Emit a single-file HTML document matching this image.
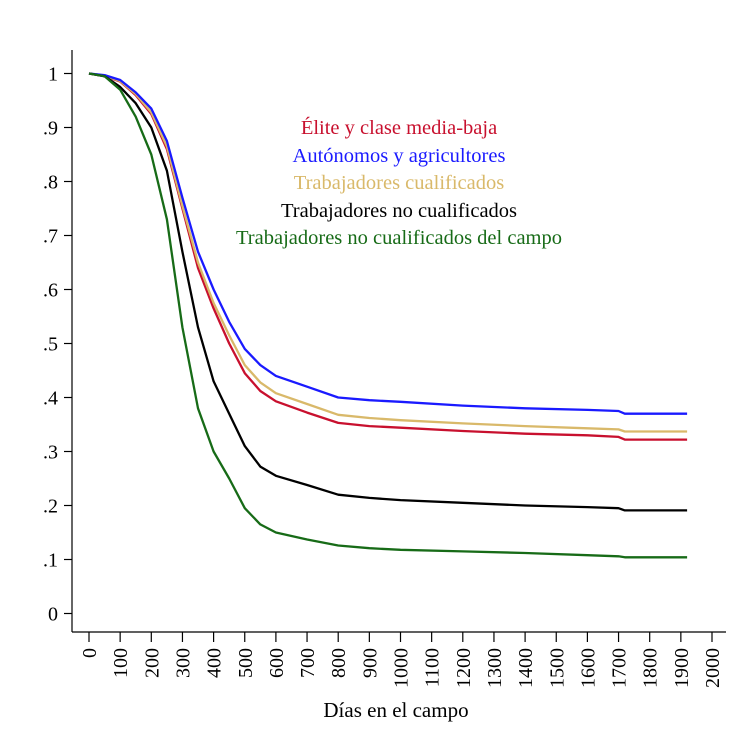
<!DOCTYPE html>
<html><head><meta charset="utf-8"><style>
body{margin:0;background:#fff}
svg{display:block;font-family:"Liberation Serif",serif}
</style></head><body>
<svg id="chart" width="754" height="753">
<rect x="0" y="0" width="754" height="753" fill="#fff"/>
<g id="axes"></g><g id="series"></g>
<g font-size="20.5" text-anchor="middle">
<text x="399" y="134" fill="#c8102e">Élite y clase media-baja</text>
<text x="399" y="162" fill="#1a1aff">Autónomos y agricultores</text>
<text x="399" y="189" fill="#d9b96a">Trabajadores cualificados</text>
<text x="399" y="217" fill="#000">Trabajadores no cualificados</text>
<text x="399" y="244" fill="#176b17">Trabajadores no cualificados del campo</text>
</g>
<text x="396" y="717" font-size="21" text-anchor="middle">Días en el campo</text>
</svg>
<script>
const days=[0,50,100,150,200,250,300,350,400,450,500,550,600,700,800,900,1000,1200,1400,1600,1700,1720,1920];
const elite=[1,0.995,0.985,0.96,0.925,0.86,0.75,0.64,0.565,0.5,0.445,0.412,0.393,0.372,0.353,0.347,0.344,0.338,0.333,0.33,0.327,0.322,0.322];
const autonomos=[1,0.997,0.988,0.965,0.935,0.875,0.77,0.67,0.6,0.54,0.49,0.46,0.44,0.42,0.4,0.395,0.392,0.385,0.38,0.377,0.375,0.37,0.37];
const cualificados=[1,0.996,0.986,0.962,0.928,0.865,0.755,0.65,0.575,0.515,0.46,0.428,0.408,0.388,0.368,0.362,0.358,0.352,0.347,0.343,0.341,0.337,0.337];
const noCualificados=[1,0.995,0.975,0.945,0.9,0.82,0.67,0.53,0.43,0.37,0.31,0.272,0.255,0.238,0.22,0.214,0.21,0.205,0.2,0.197,0.195,0.191,0.191];
const campo=[1,0.995,0.97,0.92,0.85,0.73,0.53,0.38,0.3,0.25,0.195,0.165,0.15,0.137,0.126,0.121,0.118,0.115,0.112,0.108,0.106,0.104,0.104];
const xTicks=[0,100,200,300,400,500,600,700,800,900,1000,1100,1200,1300,1400,1500,1600,1700,1800,1900,2000];
const yTicks=[0,0.1,0.2,0.3,0.4,0.5,0.6,0.7,0.8,0.9,1];
const yLabels=["0",".1",".2",".3",".4",".5",".6",".7",".8",".9","1"];
const X=d=>89+d*(712-89)/2000;
const Y=v=>613.5-v*540;
const NS="http://www.w3.org/2000/svg";
const axes=document.getElementById('axes'),ser=document.getElementById('series');
function mk(tag,attrs,parent){const e=document.createElementNS(NS,tag);for(const k in attrs)e.setAttribute(k,attrs[k]);parent.appendChild(e);return e;}
let yl=mk('line',{x1:72,y1:50,x2:72,y2:632,stroke:'#000','stroke-width':1.2},axes);


let xl=mk('line',{x1:72,y1:632,x2:726,y2:632,stroke:'#000','stroke-width':1.2},axes);


yTicks.forEach((v,i)=>{
 let t=mk('line',{x1:64,x2:72,y1:Y(v),y2:Y(v),stroke:'#000','stroke-width':1.2},axes);
 
 
 let l=mk('text',{x:58,y:Y(v)+7,'font-size':20,'text-anchor':'end'},axes);l.textContent=yLabels[i];
 
 
});
xTicks.forEach(d=>{
 let t=mk('line',{x1:X(d),x2:X(d),y1:632,y2:642,stroke:'#000','stroke-width':1.2},axes);
 
 
 let l=mk('text',{x:0,y:0,'font-size':20,'text-anchor':'end',transform:`translate(${X(d)+7},648) rotate(-90)`},axes);l.textContent=d;
 
 
});
[[elite,'#c8102e','series-elite'],[cualificados,'#d9b96a','series-cualificados'],[autonomos,'#1a1aff','series-autonomos'],[noCualificados,'#000','series-no-cualificados'],[campo,'#176b17','series-campo']].forEach(([vals,c,n])=>{
 let p=mk('polyline',{points:days.map((d,i)=>X(d).toFixed(1)+','+Y(vals[i]).toFixed(1)).join(' '),fill:'none',stroke:c,'stroke-width':2.3,'stroke-linejoin':'round'},ser);
 
 
});
</script>
</body></html>
